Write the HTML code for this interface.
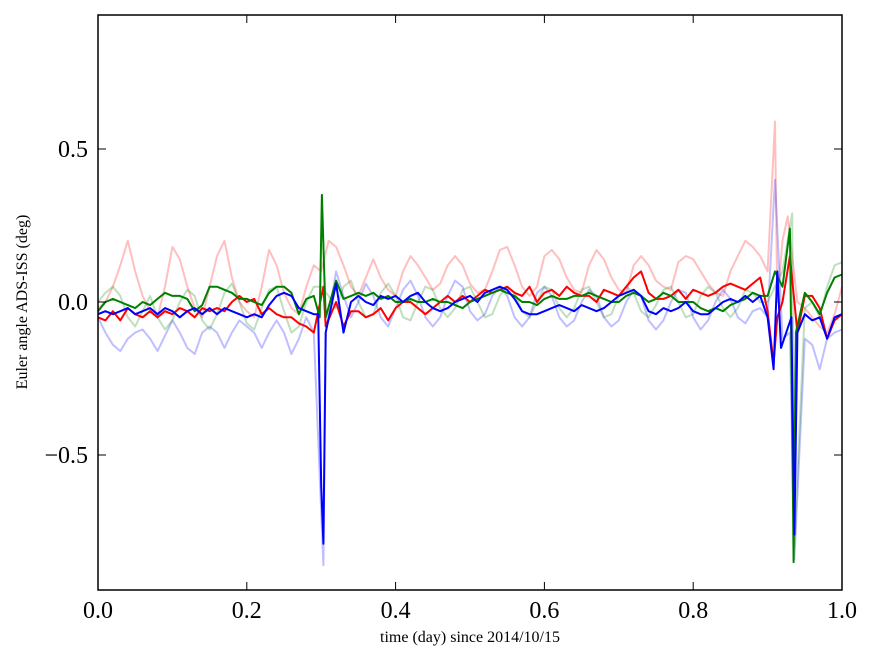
<!DOCTYPE html>
<html><head><meta charset="utf-8"><style>
html,body{margin:0;padding:0;background:#fff;}
svg text{font-family:"Liberation Serif",serif;}
</style></head><body>
<svg id="chart" width="875" height="662" xmlns="http://www.w3.org/2000/svg">
<rect x="0" y="0" width="875" height="662" fill="#fff"/>
<g id="series"></g>
<g id="axes"></g>
<text x="470" y="642" font-size="16" text-anchor="middle">time (day) since 2014/10/15</text>
<text x="27" y="302" font-size="16" text-anchor="middle" transform="rotate(-90 27 302)">Euler angle ADS-ISS (deg)</text>
</svg>
<script>
const xTicks=[0.0,0.2,0.4,0.6,0.8,1.0];
const xTickLabels=["0.0","0.2","0.4","0.6","0.8","1.0"];
const yTicks=[-0.5,0.0,0.5];
const yTickLabels=["\u22120.5","0.0","0.5"];
const lightRed=[-0.02,0.0,0.05,0.12,0.2,0.1,0.02,-0.03,-0.05,0.05,0.18,0.14,0.05,-0.02,-0.05,0.05,0.15,0.2,0.08,0.0,-0.03,-0.05,0.05,0.17,0.12,0.03,-0.02,-0.04,0.05,0.12,0.1,0.2,0.18,0.12,0.05,0.02,0.08,0.14,0.08,0.04,0.02,0.1,0.15,0.12,0.08,0.04,0.06,0.12,0.15,0.12,0.06,0.03,0.04,0.1,0.17,0.18,0.12,0.05,0.02,0.05,0.15,0.17,0.14,0.08,0.04,0.03,0.12,0.17,0.14,0.08,0.04,0.03,0.12,0.15,0.12,0.07,0.05,0.04,0.13,0.15,0.14,0.1,0.06,0.03,0.02,0.1,0.15,0.2,0.18,0.15,0.1,0.3,0.2,0.25,0.0,-0.02,-0.05,-0.08,-0.1,-0.04,0.05];
const lightRedSpikes=[[0.91,0.59],[0.913,0.0],[0.927,0.28]];
const lightBlue=[-0.05,-0.1,-0.14,-0.16,-0.12,-0.1,-0.09,-0.12,-0.16,-0.11,-0.06,-0.1,-0.15,-0.17,-0.1,-0.08,-0.1,-0.15,-0.1,-0.06,-0.08,-0.1,-0.15,-0.1,-0.06,-0.1,-0.17,-0.12,-0.05,-0.1,-0.1,0.05,0.1,0.02,-0.05,0.0,0.06,0.02,-0.05,-0.08,-0.02,0.04,0.07,0.02,-0.05,-0.08,-0.05,0.02,0.07,0.05,-0.03,-0.06,-0.04,0.02,0.05,0.02,-0.05,-0.08,-0.05,0.03,0.05,0.02,-0.05,-0.08,-0.06,0.0,0.04,0.02,-0.05,-0.08,-0.06,0.0,0.04,0.02,-0.06,-0.09,-0.06,0.0,0.04,0.03,-0.05,-0.09,-0.06,0.0,0.04,0.01,-0.05,-0.07,-0.03,-0.02,-0.05,0.4,-0.12,-0.1,-0.1,-0.12,-0.14,-0.22,-0.12,-0.1,-0.09];
const lightBlueSpikes=[[0.303,-0.86],[0.306,-0.1],[0.936,-0.84]];
const lightGreen=[0.0,0.03,0.05,0.02,-0.05,-0.08,-0.03,0.02,-0.05,-0.09,-0.06,0.0,0.04,0.02,-0.06,-0.09,-0.04,0.03,0.06,0.0,-0.07,-0.09,-0.02,0.04,0.05,-0.03,-0.1,-0.08,0.0,0.05,0.05,0.02,-0.02,0.05,0.07,0.0,-0.05,-0.04,0.03,0.06,0.02,-0.05,-0.06,0.0,0.05,0.04,-0.02,-0.05,-0.02,0.04,0.05,0.0,-0.05,-0.04,0.02,0.05,0.03,-0.03,-0.05,0.0,0.05,0.04,-0.02,-0.05,-0.02,0.04,0.05,0.0,-0.05,-0.04,0.02,0.05,0.03,-0.03,-0.05,-0.01,0.04,0.05,0.0,-0.05,-0.04,0.02,0.05,0.03,-0.02,-0.05,-0.02,0.04,0.03,0.0,0.0,0.05,0.1,0.28,-0.05,-0.02,0.0,-0.05,0.05,0.12,0.13];
const lightGreenSpikes=[[0.933,0.29],[0.936,-0.8]];
const red=[-0.05,-0.06,-0.03,-0.06,-0.02,-0.04,-0.05,-0.03,-0.05,-0.03,-0.04,-0.02,-0.03,-0.05,-0.02,-0.03,-0.02,-0.03,0.0,0.02,0.0,0.01,-0.04,-0.02,-0.04,-0.05,-0.05,-0.07,-0.08,-0.1,-0.05,0.2,0.0,-0.08,-0.03,-0.03,-0.05,-0.04,-0.02,-0.06,-0.02,0.0,0.0,-0.02,-0.04,-0.02,0.0,0.02,0.0,0.02,0.0,0.02,0.04,0.03,0.04,0.05,0.03,0.02,0.05,0.0,0.03,0.04,0.02,0.05,0.03,0.02,0.02,0.0,0.04,0.03,0.02,0.05,0.08,0.1,0.03,0.01,0.01,0.02,0.04,0.01,0.04,0.03,0.02,0.03,0.05,0.06,0.05,0.04,0.06,0.08,-0.03,0.48,-0.1,0.15,-0.1,0.02,0.02,-0.02,-0.12,-0.06,-0.04];
const redSpikes=[[0.303,0.05],[0.306,-0.08],[0.908,-0.2],[0.913,-0.05],[0.92,0.0]];
const green=[-0.03,0.0,0.01,0.0,-0.01,-0.02,0.0,-0.01,0.01,0.03,0.02,0.02,0.01,-0.03,-0.01,0.05,0.05,0.04,0.03,0.01,0.01,0.0,-0.01,0.03,0.05,0.05,0.03,-0.04,0.01,0.02,0.0,0.05,0.07,0.01,0.02,0.03,0.02,0.03,0.01,0.02,0.0,0.0,0.01,0.0,0.0,0.01,0.0,0.0,-0.01,-0.02,0.0,0.01,0.02,0.03,0.04,0.03,0.02,0.0,0.0,-0.01,0.01,0.02,0.01,0.01,0.02,0.02,0.03,0.02,0.01,0.0,0.0,0.02,0.03,0.02,0.0,0.01,0.03,0.02,0.0,0.0,0.0,-0.02,-0.03,-0.02,-0.03,-0.01,0.0,0.01,0.03,0.02,0.02,0.1,0.05,0.2,0.04,0.03,0.0,-0.04,0.03,0.08,0.09];
const greenSpikes=[[0.298,-0.05],[0.301,0.35],[0.304,0.1],[0.306,-0.05],[0.93,0.24],[0.933,-0.4],[0.935,-0.85],[0.938,-0.1]];
const blue=[-0.04,-0.03,-0.04,-0.03,-0.02,-0.04,-0.03,-0.02,-0.04,-0.02,-0.03,-0.05,-0.03,-0.02,-0.04,-0.02,-0.04,-0.02,-0.03,-0.04,-0.05,-0.04,-0.05,-0.01,0.02,0.03,0.02,-0.02,-0.03,-0.04,0.0,0.05,0.06,-0.1,0.0,0.02,0.0,-0.01,0.02,0.01,0.02,0.0,0.02,0.03,0.0,-0.02,-0.03,-0.02,0.0,0.01,0.02,0.0,0.03,0.04,0.05,0.04,0.01,-0.03,-0.04,-0.04,-0.03,-0.02,-0.01,-0.02,-0.03,-0.01,-0.02,-0.03,-0.02,0.0,0.02,0.03,0.04,0.02,-0.03,-0.04,-0.02,-0.03,-0.02,0.0,-0.03,-0.04,-0.04,-0.02,0.0,0.01,0.0,0.02,0.0,0.02,-0.05,0.44,-0.1,-0.06,-0.03,-0.04,-0.06,-0.05,-0.12,-0.05,-0.04];
const blueSpikes=[[0.296,-0.04],[0.300,-0.6],[0.303,-0.79],[0.306,-0.1],[0.908,-0.22],[0.913,0.1],[0.918,-0.15],[0.932,-0.05],[0.936,-0.76],[0.94,-0.1]];

const L=98,R=842,T=15,B=590;
const X=v=>L+(R-L)*v;
const Y=v=>302-306*v;
const NS="http://www.w3.org/2000/svg";
function mk(tag,attrs){const e=document.createElementNS(NS,tag);for(const k in attrs)e.setAttribute(k,attrs[k]);return e;}
function merge(base,spikes){
  const pts=base.map((v,i)=>[i/(base.length-1),v]).filter(p=>!spikes.some(s=>Math.abs(s[0]-p[0])<0.0045));
  return pts.concat(spikes).sort((a,b)=>a[0]-b[0]);
}
const sg=document.getElementById('series');
const list=[
 ['light-red-series',lightRed,lightRedSpikes,'rgba(255,0,0,0.25)'],
 ['light-blue-series',lightBlue,lightBlueSpikes,'rgba(0,0,255,0.25)'],
 ['light-green-series',lightGreen,lightGreenSpikes,'rgba(0,128,0,0.25)'],
 ['red-series',red,redSpikes,'#ff0000'],
 ['green-series',green,greenSpikes,'#008000'],
 ['blue-series',blue,blueSpikes,'#0000ff']
];
for(const [name,base,sp,col] of list){
  const pts=merge(base,sp);
  const p=mk('polyline',{points:pts.map(q=>X(q[0]).toFixed(1)+','+Y(q[1]).toFixed(1)).join(' '),fill:'none',stroke:col,'stroke-width':2,'stroke-linejoin':'round'});
  
  
  sg.appendChild(p);
}
const ax=document.getElementById('axes');
const frame=mk('rect',{x:L,y:T,width:R-L,height:B-T,fill:'none',stroke:'#000','stroke-width':1.5});


ax.appendChild(frame);
xTicks.forEach((v,i)=>{
  const t1=mk('line',{x1:X(v),x2:X(v),y1:B,y2:B-8,stroke:'#000','stroke-width':1});
  
  
  ax.appendChild(t1);
  const t2=mk('line',{x1:X(v),x2:X(v),y1:T,y2:T+8,stroke:'#000','stroke-width':1});
  
  
  ax.appendChild(t2);
  const tx=mk('text',{x:X(v),y:B+28,'font-size':24,'text-anchor':'middle'});
  tx.textContent=xTickLabels[i];
  
  
  ax.appendChild(tx);
});
yTicks.forEach((v,i)=>{
  const t1=mk('line',{x1:L,x2:L+8,y1:Y(v),y2:Y(v),stroke:'#000','stroke-width':1});
  
  
  ax.appendChild(t1);
  const t2=mk('line',{x1:R,x2:R-8,y1:Y(v),y2:Y(v),stroke:'#000','stroke-width':1});
  
  
  ax.appendChild(t2);
  const tx=mk('text',{x:L-10,y:Y(v)+8,'font-size':24,'text-anchor':'end'});
  tx.textContent=yTickLabels[i];
  
  
  ax.appendChild(tx);
});
</script>
</body></html>
